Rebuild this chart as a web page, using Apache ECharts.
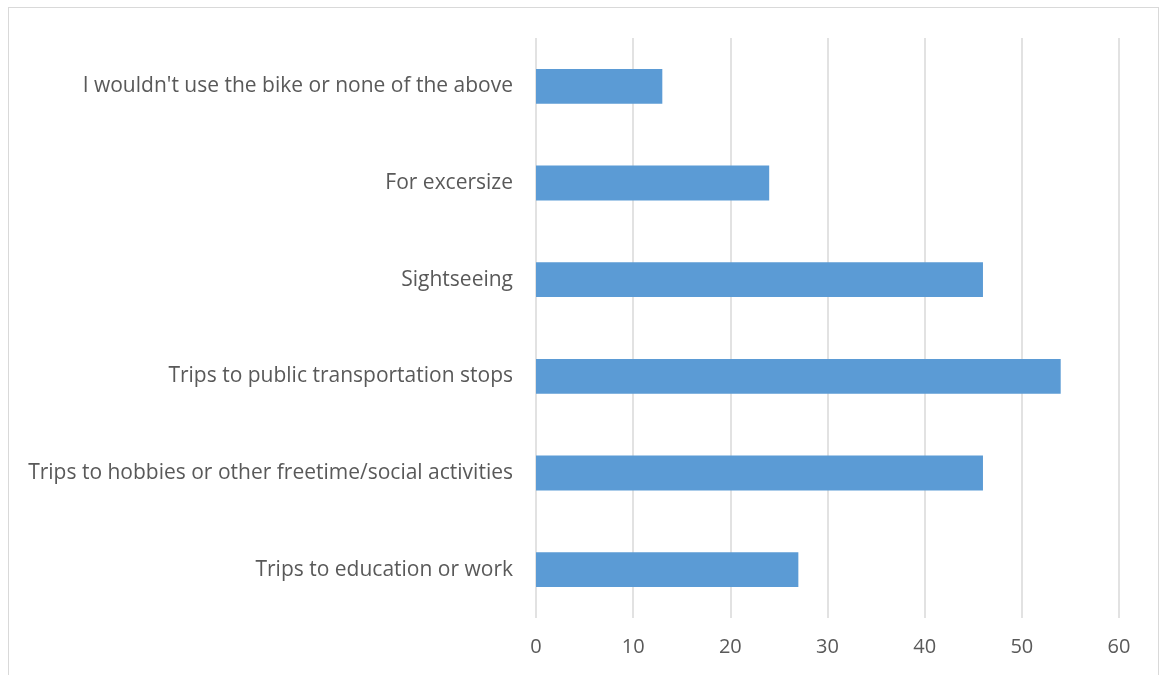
<!DOCTYPE html>
<html>
<head>
<meta charset="utf-8">
<script src="https://cdn.jsdelivr.net/npm/echarts@6/dist/echarts.min.js"></script>
<style>
  html, body { margin: 0; padding: 0; background: #fff; }
  #frame { position: absolute; left: 8px; top: 7px; width: 1151px; height: 680px; border: 1px solid #d9d9d9; box-sizing: border-box; }
  #chart { position: absolute; left: 0; top: 0; width: 1162px; height: 675px; }
</style>
</head>
<body>
<div id="frame"></div>
<div id="chart"></div>
<script>
// Purposes for using the bike (bottom to top as drawn on the category axis)
const categories = [
  "Trips to education or work",
  "Trips to hobbies or other freetime/social activities",
  "Trips to public transportation stops",
  "Sightseeing",
  "For excersize",
  "I wouldn't use the bike or none of the above"
];
const counts = [27, 46, 54, 46, 24, 13];
const xTicks = [0, 10, 20, 30, 40, 50, 60];

const chart = echarts.init(document.getElementById('chart'), null, { renderer: 'canvas' });
chart.setOption({
  animation: false,
  grid: { left: 536, right: 43, top: 38, bottom: 57, containLabel: false },
  xAxis: {
    type: 'value',
    min: xTicks[0],
    max: xTicks[xTicks.length - 1],
    interval: 10,
    axisLine: { show: false },
    axisTick: { show: false },
    splitLine: { show: true, lineStyle: { color: '#d9d9d9', width: 1.5 } },
    axisLabel: { color: '#595959', fontSize: 20, fontFamily: 'Open Sans', margin: 19 }
  },
  yAxis: {
    type: 'category',
    data: categories,
    axisLine: { show: false },
    axisTick: { show: false },
    axisLabel: { color: '#595959', fontSize: 21, fontFamily: 'Open Sans', margin: 23 }
  },
  series: [{
    type: 'bar',
    data: counts,
    barWidth: '36%',
    itemStyle: { color: '#5B9BD5' }
  }]
});
</script>
</body>
</html>
